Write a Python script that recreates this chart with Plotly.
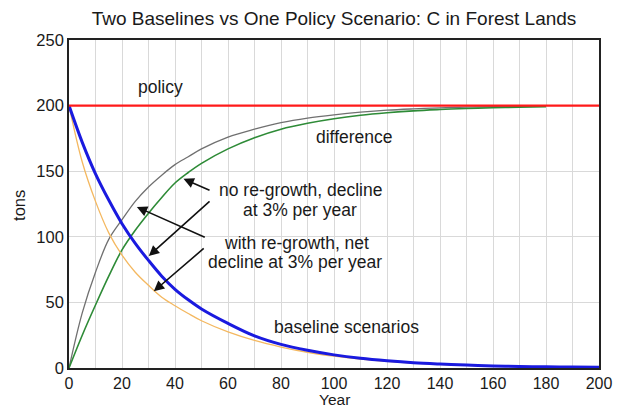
import plotly.graph_objects as go

# Years sampled for the two baseline declines (tons of C)
years = [0, 5, 10, 15, 20, 25, 30, 35, 40, 45, 50, 60, 70, 80, 90, 100,
         110, 120, 130, 140, 150, 160, 170, 180, 190, 200]
baseline_no_regrowth = [200, 172, 148, 128, 110, 95, 82, 70, 60, 52, 45, 34,
                        24.5, 18, 13.5, 10, 7.4, 5.5, 4, 3, 2.2, 1.6, 1.2, 0.9, 0.7, 0.5]
baseline_regrowth = [200, 157, 127, 103, 86, 73, 63, 54, 47.5, 41.5, 36, 27.5,
                     21, 16, 12, 9, 6.7, 5, 3.7, 2.8, 2.1, 1.6, 1.2, 0.9, 0.7, 0.5]

# Differences (policy minus baseline) run to year 180
diff_years = [0, 5, 10, 15, 20, 25, 30, 35, 40, 45, 50, 60, 70, 80, 90, 100,
              110, 120, 130, 140, 150, 160, 170, 180]
diff_regrowth = [0, 42, 73, 98, 113, 127, 138, 147, 155, 161, 167, 176, 182,
                 187, 190.5, 193, 195, 196.5, 197.5, 198.3, 198.8, 199.2, 199.5, 199.7]
diff_no_regrowth = [0, 25, 48, 70, 90, 105, 118, 130, 141, 149, 156, 167, 175.5,
                    182, 186.5, 190, 192.6, 194.5, 196, 197, 197.8, 198.4, 198.8, 199.1]

policy_years = [0, 200]
policy_level = [200, 200]

x_ticks = [0, 20, 40, 60, 80, 100, 120, 140, 160, 180, 200]
y_ticks = [0, 50, 100, 150, 200, 250]

FONT = "Liberation Sans, Arial, sans-serif"
INK = "#1a1a1a"

fig = go.Figure()
fig.add_trace(go.Scatter(x=diff_years, y=diff_regrowth, mode="lines",
                         line=dict(color="#707070", width=1.3, shape="spline")))
fig.add_trace(go.Scatter(x=diff_years, y=diff_no_regrowth, mode="lines",
                         line=dict(color="#2e8b37", width=1.6, shape="spline")))
fig.add_trace(go.Scatter(x=years, y=baseline_regrowth, mode="lines",
                         line=dict(color="#f4b860", width=1.3, shape="spline")))
fig.add_trace(go.Scatter(x=years, y=baseline_no_regrowth, mode="lines",
                         line=dict(color="#1a1adf", width=3, shape="spline")))
fig.add_trace(go.Scatter(x=policy_years, y=policy_level, mode="lines",
                         line=dict(color="#ff1a1a", width=2.2)))

txt = dict(family=FONT, size=17.5, color=INK)
labels = [
    ("policy", 34.6, 214.2),
    ("difference", 107.9, 176.0),
    ("no re-growth, decline", 87.3, 135.7),
    ("at 3% per year", 87.3, 120.4),
    ("with re-growth, net", 85.8, 95.3),
    ("decline at 3% per year", 85.4, 80.8),
    ("baseline scenarios", 104.9, 31.3),
]
for t, x, y in labels:
    fig.add_annotation(x=x, y=y, text=t, showarrow=False, font=txt,
                       xref="x", yref="y", xanchor="center", yanchor="middle")

# Arrows: (tip x, tip y, tail x, tail y)
arrows = [
    (43.2, 144.2, 53.6, 134.9),
    (30.1, 85.4, 53.6, 128.0),
    (25.6, 122.7, 51.8, 99.1),
    (32.0, 58.5, 51.4, 92.1),
]
for x, y, ax, ay in arrows:
    fig.add_annotation(x=x, y=y, ax=ax, ay=ay, xref="x", yref="y",
                       axref="x", ayref="y", text="", showarrow=True,
                       arrowhead=2, arrowsize=1.3, arrowwidth=1.6,
                       arrowcolor="#111111")

# Axis titles
fig.add_annotation(text="Year", xref="paper", yref="paper", x=0.5, y=-0.095,
                   xanchor="center", yanchor="middle", showarrow=False,
                   font=dict(family=FONT, size=15.5, color=INK))
fig.add_annotation(text="tons", xref="paper", yref="paper", x=-0.0944, y=0.497,
                   xanchor="center", yanchor="middle", showarrow=False,
                   textangle=-90, font=dict(family=FONT, size=16.5, color=INK))

fig.update_layout(
    width=624, height=408,
    margin=dict(l=69, r=20, t=40, b=40),
    paper_bgcolor="white", plot_bgcolor="white",
    showlegend=False,
    title=dict(text="Two Baselines vs One Policy Scenario: C in Forest Lands",
               x=0.5, xref="paper", xanchor="center", y=0.955, yanchor="middle",
               font=dict(family=FONT, size=19, color=INK)),
    font=dict(family=FONT, size=16.5, color=INK),
)
fig.update_xaxes(range=[0, 200], tickvals=x_ticks, showgrid=True,
                 gridcolor="#d9d9d9", gridwidth=1,
                 minor=dict(dtick=10, showgrid=True, gridcolor="#d9d9d9"),
                 showline=True, linecolor="#222222", linewidth=1.6, mirror=True,
                 ticks="", ticklen=0, zeroline=False,
                 tickfont=dict(family=FONT, size=16, color=INK))
fig.update_yaxes(range=[0, 250], tickvals=y_ticks, showgrid=True,
                 gridcolor="#d9d9d9", gridwidth=1,
                 showline=True, linecolor="#222222", linewidth=1.6, mirror=True,
                 ticks="", ticklen=0, zeroline=False,
                 tickfont=dict(family=FONT, size=16.5, color=INK))

fig.write_html("out.html")
